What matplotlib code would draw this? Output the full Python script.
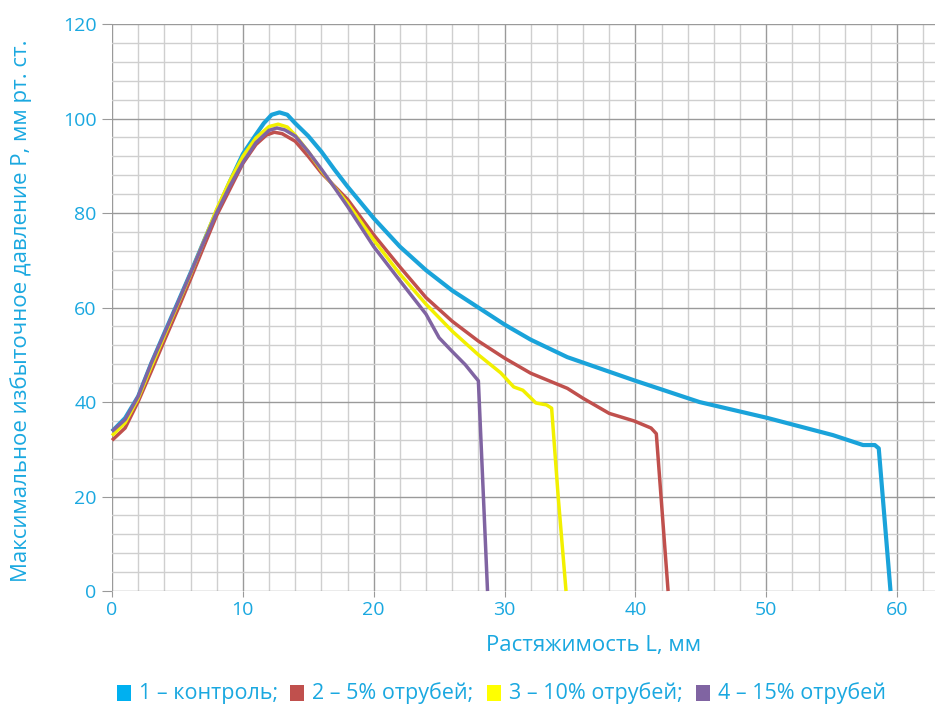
import numpy as np
import matplotlib.pyplot as plt
from matplotlib.ticker import MultipleLocator
from matplotlib.patches import Rectangle

plt.rcParams['font.family'] = ['Open Sans', 'DejaVu Sans']

# 1 - контроль
x1 = [0, 1, 2, 3, 4, 5, 6, 7, 8, 9, 10, 11, 11.6, 12.2, 12.8, 13.4, 14, 15, 16, 17, 18, 20, 22, 24, 26, 28, 30, 32,
      34.8, 39.9, 44.9, 50.0, 55.1, 57.4, 58.3, 58.6, 59.5]
y1 = [33.8, 36.6, 41.2, 48.2, 54.6, 60.9, 67.3, 73.9, 80.4, 86.6, 92.5, 96.6, 99.0, 100.8, 101.3, 100.8, 99.0, 96.3,
      93.0, 89.2, 85.6, 78.9, 72.9, 67.9, 63.6, 60.0, 56.4, 53.2, 49.5, 44.6, 40.0, 36.7, 33.0, 30.9, 30.9, 30.2, 0]
# 2 - 5% отрубей
x2 = [0, 1, 2, 3, 4, 5, 6, 7, 8, 9, 10, 11, 11.8, 12.4, 13, 14, 15, 16, 17, 18, 20, 22, 24, 26, 28, 30, 32,
      34.8, 36.0, 38.0, 39.9, 41.2, 41.6, 42.5]
y2 = [31.9, 34.5, 40.1, 46.5, 53.0, 59.4, 66.0, 72.8, 79.5, 85.0, 90.5, 94.5, 96.5, 97.1, 96.8, 95.2, 92.0, 88.5,
      85.7, 82.9, 75.4, 68.6, 62.1, 57.1, 52.9, 49.3, 46.1, 42.9, 40.8, 37.6, 36.0, 34.5, 33.3, 0]
# 3 - 10% отрубей
x3 = [0, 1, 2, 3, 4, 5, 6, 7, 8, 9, 10, 11, 12, 12.7, 13.4, 14, 15, 16, 17, 18, 20, 22, 24, 26, 28, 29.7, 30.7,
      31.4, 32.4, 33.2, 33.6, 34.1, 34.7]
y3 = [32.9, 35.6, 40.8, 47.5, 54.0, 60.5, 67.0, 73.9, 80.8, 86.8, 92.0, 95.9, 98.3, 98.8, 98.2, 96.5, 93.0, 89.0,
      85.5, 82.1, 74.3, 67.1, 60.7, 55.0, 50.0, 46.2, 43.2, 42.5, 39.8, 39.4, 38.7, 20.0, 0]
# 4 - 15% отрубей
x4 = [0, 1, 2, 3, 4, 5, 6, 7, 8, 9, 10, 11, 12, 12.6, 13.2, 14, 15, 16, 17, 18, 20, 22, 24, 25, 26, 27, 27.7,
      28.0, 28.7]
y4 = [33.8, 36.3, 41.2, 48.2, 54.5, 60.8, 67.2, 73.8, 80.1, 85.7, 90.7, 94.9, 97.5, 98.0, 97.6, 96.3, 93.0, 89.3,
      85.4, 81.4, 72.9, 65.7, 58.6, 53.6, 50.7, 47.9, 45.5, 44.5, 0]

labels = ['1 – контроль;', '2 – 5% отрубей;', '3 – 10% отрубей;', '4 – 15% отрубей']
line_colors = ['#1aa3da', '#c0504d', '#f2f000', '#8064a2']
box_colors = ['#00b0f0', '#c0504d', '#ffff00', '#8064a2']
txt = '#1aa8e0'

fig = plt.figure(figsize=(9.35, 7.07), dpi=100)
ax = fig.add_axes([0.1198, 0.164, 0.8802, 0.802])

ax.set_xlim(0, 62.9)
ax.set_ylim(0, 120)
ax.xaxis.set_major_locator(MultipleLocator(10))
ax.xaxis.set_minor_locator(MultipleLocator(2))
ax.yaxis.set_major_locator(MultipleLocator(20))
ax.yaxis.set_minor_locator(MultipleLocator(4))
ax.grid(which='minor', color='#cfcfcf', linewidth=1.0)
ax.grid(which='major', color='#9a9a9a', linewidth=1.0)
ax.set_axisbelow(True)
for s in ax.spines.values():
    s.set_visible(False)
ax.tick_params(which='major', color='#9a9a9a', labelcolor=txt, labelsize=14)
ax.tick_params(axis='y', which='major', length=7, pad=4)
ax.tick_params(axis='x', which='major', length=4, pad=3)
ax.tick_params(which='minor', length=0)

for xs, ys, c, lw in zip([x1, x2, x3, x4], [y1, y2, y3, y4], line_colors, [3.0, 2.5, 2.5, 2.5]):
    ax.plot(xs, ys, color=c, linewidth=lw, solid_capstyle='butt', solid_joinstyle='round', clip_on=False)

fig.text(0.635, 0.087, 'Растяжимость L, мм', color=txt, fontsize=16, ha='center', va='center')
fig.text(0.022, 0.561, 'Максимальное избыточное давление P, мм рт. ст.', color=txt, fontsize=16,
         rotation=90, ha='center', va='center')

# legend row
xpos = [0.125, 0.310, 0.521, 0.744]
for xp, lab, bc in zip(xpos, labels, box_colors):
    fig.patches.append(Rectangle((xp, 0.0085), 0.015, 0.0226, transform=fig.transFigure,
                                 facecolor=bc, edgecolor='none'))
    fig.text(xp + 0.0235, 0.0198, lab, color=txt, fontsize=15.5, va='center', ha='left')

fig.savefig('out.png', dpi=100)
